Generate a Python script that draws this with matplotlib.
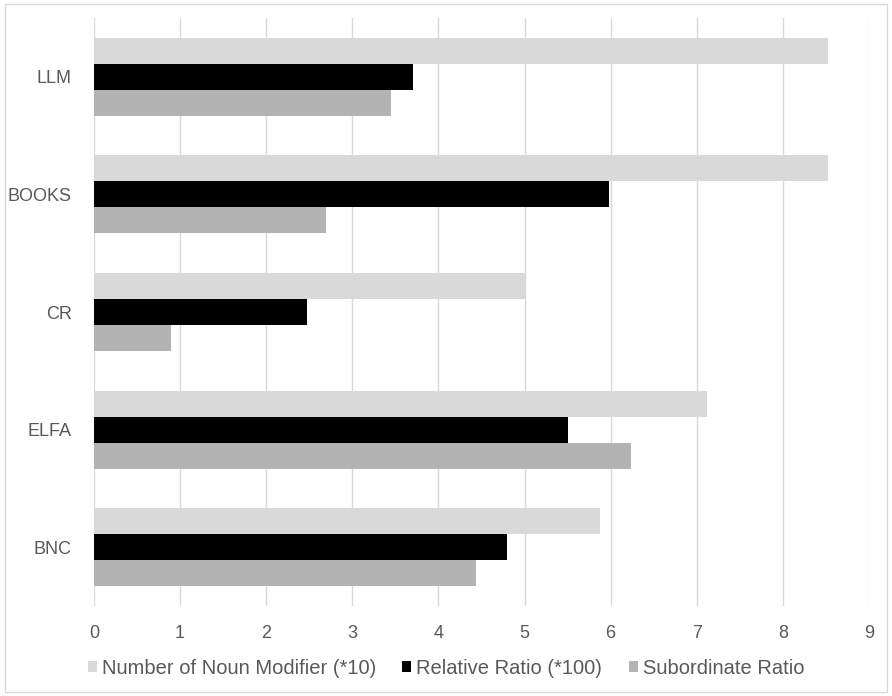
import numpy as np
import matplotlib.pyplot as plt
from matplotlib.patches import Rectangle

plt.rcParams['font.family'] = ['Liberation Sans', 'DejaVu Sans']

# dane
categories = ['LLM', 'BOOKS', 'CR', 'ELFA', 'BNC']
noun_modifier = [8.52, 8.52, 5.02, 7.12, 5.88]
relative_ratio = [3.71, 5.98, 2.47, 5.50, 4.80]
subordinate_ratio = [3.45, 2.69, 0.89, 6.24, 4.44]
series_labels = ['Number of Noun Modifier (*10)', 'Relative Ratio (*100)', 'Subordinate Ratio']
x_ticks = list(range(0, 10))

colors = ['#d9d9d9', '#000000', '#b3b3b3']
text_color = '#595959'


def main():
    fig = plt.figure(figsize=(8.92, 6.96), dpi=100)
    ax = fig.add_axes([0.1054, 0.1293, 0.8688, 0.8448])

    y = np.arange(len(categories))
    h = 0.221
    series = [noun_modifier, relative_ratio, subordinate_ratio]
    for i, (vals, lab, col) in enumerate(zip(series, series_labels, colors)):
        ax.barh(y + (i - 1) * h, vals, height=h, color=col, label=lab, zorder=2)

    ax.set_xlim(0, 9)
    ax.set_ylim(len(categories) - 0.5, -0.5)
    ax.set_xticks(x_ticks)
    ax.set_yticks(y)
    ax.set_yticklabels(categories)

    # siatka pionowa
    ax.grid(axis='x', color='#d9d9d9', linewidth=1, zorder=0)
    ax.set_axisbelow(True)
    for s in ax.spines.values():
        s.set_visible(False)
    ax.tick_params(axis='both', length=0, labelsize=13, labelcolor=text_color)
    ax.tick_params(axis='x', pad=14)
    ax.tick_params(axis='y', pad=16)

    fig.legend(loc='center', bbox_to_anchor=(0.5, 0.04), ncol=3, frameon=False,
               fontsize=14.5, labelcolor=text_color, handlelength=0.45, handleheight=0.45,
               handletextpad=0.25, columnspacing=1.3)

    # ramka wokół wykresu
    fig.patches.append(Rectangle((0.006, 0.006), 0.988, 0.988, transform=fig.transFigure,
                                 fill=False, edgecolor='#d9d9d9', linewidth=1))

    fig.savefig('out.png', dpi=100)
    plt.close(fig)


if __name__ == "__main__":
    main()
